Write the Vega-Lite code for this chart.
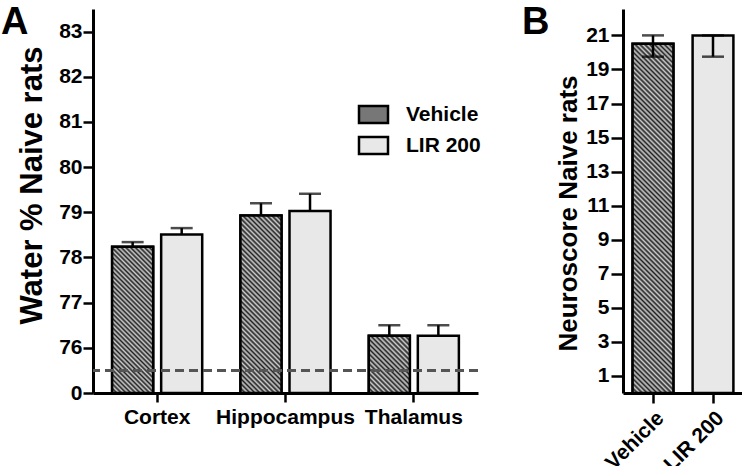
{
"$schema": "https://vega.github.io/schema/vega-lite/v6.json",
"background": "white",
"padding": {"left": 1, "top": 4, "right": 0, "bottom": 0},
"spacing": 42,
"config": {
  "view": {"stroke": null},
  "axis": {"grid": false, "domainColor": "black", "domainWidth": 3, "tickColor": "black", "tickWidth": 2.5, "tickSize": 10, "labelFont": "Liberation Sans", "labelFontWeight": "bold", "labelFontSize": 21, "labelColor": "black", "titleFont": "Liberation Sans", "titleFontWeight": "bold", "titleColor": "black", "labelOverlap": false},
  "title": {"font": "Liberation Sans", "fontWeight": "bold", "color": "black"}
},
"hconcat": [
{
  "width": 385, "height": 384,
  "title": {"text": "A", "anchor": "start", "frame": "group", "fontSize": 38, "dx": -92, "baseline": "alphabetic", "offset": -63},
  "data": {"values": [
    {"region": "Cortex", "group": "Vehicle", "value": 78.24, "upper": 78.34},
    {"region": "Cortex", "group": "LIR 200", "value": 78.51, "upper": 78.65},
    {"region": "Hippocampus", "group": "Vehicle", "value": 78.93, "upper": 79.2},
    {"region": "Hippocampus", "group": "LIR 200", "value": 79.03, "upper": 79.41},
    {"region": "Thalamus", "group": "Vehicle", "value": 76.27, "upper": 76.5},
    {"region": "Thalamus", "group": "LIR 200", "value": 76.27, "upper": 76.5}
  ]},
  "layer": [
    {
      "mark": {"type": "bar", "stroke": "black", "strokeWidth": 2.5},
      "encoding": {
        "x": {"field": "region", "type": "nominal", "sort": ["Cortex", "Hippocampus", "Thalamus"], "scale": {"paddingInner": 0, "paddingOuter": 0}, "title": null, "axis": {"labelAngle": 0, "tickSize": 9, "labelPadding": 4}},
        "xOffset": {"field": "group", "type": "nominal", "sort": ["Vehicle", "LIR 200"], "scale": {"domain": ["Vehicle", "LIR 200"], "paddingInner": 0.163, "paddingOuter": 0.39}},
        "y": {"field": "value", "type": "quantitative", "stack": null, "scale": {"domain": [75, 83.5], "zero": false, "nice": false}, "title": "Water %  Naive rats",
              "axis": {"values": [75, 76, 77, 78, 79, 80, 81, 82, 83], "tickCount": 12, "labelExpr": "datum.value == 75 ? '0' : datum.label", "titleFontSize": 31, "titlePadding": 10, "labelPadding": 1, "tickSize": 10, "titleY": 176}},
        "fill": {
          "field": "group", "type": "nominal",
          "scale": {"domain": ["Vehicle", "LIR 200"], "range": ["#777777", "#e8e8e8"]},
          "legend": {
            "title": null, "orient": "none", "legendX": 270, "legendY": 95, "padding": 0,
            "symbolType": "M-1.706,-1H1.706V1H-1.706Z", "symbolSize": 289, "symbolStrokeColor": "black", "symbolStrokeWidth": 2.5,
            "labelFont": "Liberation Sans", "labelFontSize": 21, "labelFontWeight": "bold", "labelColor": "black", "labelOffset": 22, "rowPadding": 4
          }
        }
      }
    },
    {
      "transform": [{"filter": "datum.group === 'Vehicle' && datum.region === 'Cortex'"}],
      "mark": {"type": "bar", "stroke": "black", "strokeWidth": 2.5, "fill": {"gradient": "linear", "x1": 0, "y1": 1, "x2": 0.3329, "y2": -0.1871, "stops": [
{"offset":0,"color":"#222"},{"offset":0.0125,"color":"#ccc"},{"offset":0.025,"color":"#222"},{"offset":0.0375,"color":"#ccc"},{"offset":0.05,"color":"#222"},{"offset":0.0625,"color":"#ccc"},{"offset":0.075,"color":"#222"},{"offset":0.0875,"color":"#ccc"},
{"offset":0.1,"color":"#222"},{"offset":0.1125,"color":"#ccc"},{"offset":0.125,"color":"#222"},{"offset":0.1375,"color":"#ccc"},{"offset":0.15,"color":"#222"},{"offset":0.1625,"color":"#ccc"},{"offset":0.175,"color":"#222"},{"offset":0.1875,"color":"#ccc"},
{"offset":0.2,"color":"#222"},{"offset":0.2125,"color":"#ccc"},{"offset":0.225,"color":"#222"},{"offset":0.2375,"color":"#ccc"},{"offset":0.25,"color":"#222"},{"offset":0.2625,"color":"#ccc"},{"offset":0.275,"color":"#222"},{"offset":0.2875,"color":"#ccc"},
{"offset":0.3,"color":"#222"},{"offset":0.3125,"color":"#ccc"},{"offset":0.325,"color":"#222"},{"offset":0.3375,"color":"#ccc"},{"offset":0.35,"color":"#222"},{"offset":0.3625,"color":"#ccc"},{"offset":0.375,"color":"#222"},{"offset":0.3875,"color":"#ccc"},
{"offset":0.4,"color":"#222"},{"offset":0.4125,"color":"#ccc"},{"offset":0.425,"color":"#222"},{"offset":0.4375,"color":"#ccc"},{"offset":0.45,"color":"#222"},{"offset":0.4625,"color":"#ccc"},{"offset":0.475,"color":"#222"},{"offset":0.4875,"color":"#ccc"},
{"offset":0.5,"color":"#222"},{"offset":0.5125,"color":"#ccc"},{"offset":0.525,"color":"#222"},{"offset":0.5375,"color":"#ccc"},{"offset":0.55,"color":"#222"},{"offset":0.5625,"color":"#ccc"},{"offset":0.575,"color":"#222"},{"offset":0.5875,"color":"#ccc"},
{"offset":0.6,"color":"#222"},{"offset":0.6125,"color":"#ccc"},{"offset":0.625,"color":"#222"},{"offset":0.6375,"color":"#ccc"},{"offset":0.65,"color":"#222"},{"offset":0.6625,"color":"#ccc"},{"offset":0.675,"color":"#222"},{"offset":0.6875,"color":"#ccc"},
{"offset":0.7,"color":"#222"},{"offset":0.7125,"color":"#ccc"},{"offset":0.725,"color":"#222"},{"offset":0.7375,"color":"#ccc"},{"offset":0.75,"color":"#222"},{"offset":0.7625,"color":"#ccc"},{"offset":0.775,"color":"#222"},{"offset":0.7875,"color":"#ccc"},
{"offset":0.8,"color":"#222"},{"offset":0.8125,"color":"#ccc"},{"offset":0.825,"color":"#222"},{"offset":0.8375,"color":"#ccc"},{"offset":0.85,"color":"#222"},{"offset":0.8625,"color":"#ccc"},{"offset":0.875,"color":"#222"},{"offset":0.8875,"color":"#ccc"},
{"offset":0.9,"color":"#222"},{"offset":0.9125,"color":"#ccc"},{"offset":0.925,"color":"#222"},{"offset":0.9375,"color":"#ccc"},{"offset":0.95,"color":"#222"},{"offset":0.9625,"color":"#ccc"},{"offset":0.975,"color":"#222"},{"offset":0.9875,"color":"#ccc"},
{"offset":1,"color":"#222"}]}},
      "encoding": {
        "x": {"field": "region", "type": "nominal", "sort": ["Cortex", "Hippocampus", "Thalamus"], "title": null},
        "xOffset": {"field": "group", "type": "nominal", "sort": ["Vehicle", "LIR 200"]},
        "y": {"field": "value", "type": "quantitative", "stack": null, "scale": {"domain": [75, 83.5], "zero": false, "nice": false}, "title": "Water %  Naive rats"}
      }
    },
    {
      "transform": [{"filter": "datum.group === 'Vehicle' && datum.region === 'Hippocampus'"}],
      "mark": {"type": "bar", "stroke": "black", "strokeWidth": 2.5, "fill": {"gradient": "linear", "x1": 0, "y1": 1, "x2": 0.2703, "y2": -0.1688, "stops": [
{"offset":0,"color":"#222"},{"offset":0.0111,"color":"#ccc"},{"offset":0.0222,"color":"#222"},{"offset":0.0333,"color":"#ccc"},{"offset":0.0444,"color":"#222"},{"offset":0.0556,"color":"#ccc"},{"offset":0.0667,"color":"#222"},{"offset":0.0778,"color":"#ccc"},{"offset":0.0889,"color":"#222"},
{"offset":0.1,"color":"#ccc"},{"offset":0.1111,"color":"#222"},{"offset":0.1222,"color":"#ccc"},{"offset":0.1333,"color":"#222"},{"offset":0.1444,"color":"#ccc"},{"offset":0.1556,"color":"#222"},{"offset":0.1667,"color":"#ccc"},{"offset":0.1778,"color":"#222"},{"offset":0.1889,"color":"#ccc"},
{"offset":0.2,"color":"#222"},{"offset":0.2111,"color":"#ccc"},{"offset":0.2222,"color":"#222"},{"offset":0.2333,"color":"#ccc"},{"offset":0.2444,"color":"#222"},{"offset":0.2556,"color":"#ccc"},{"offset":0.2667,"color":"#222"},{"offset":0.2778,"color":"#ccc"},{"offset":0.2889,"color":"#222"},
{"offset":0.3,"color":"#ccc"},{"offset":0.3111,"color":"#222"},{"offset":0.3222,"color":"#ccc"},{"offset":0.3333,"color":"#222"},{"offset":0.3444,"color":"#ccc"},{"offset":0.3556,"color":"#222"},{"offset":0.3667,"color":"#ccc"},{"offset":0.3778,"color":"#222"},{"offset":0.3889,"color":"#ccc"},
{"offset":0.4,"color":"#222"},{"offset":0.4111,"color":"#ccc"},{"offset":0.4222,"color":"#222"},{"offset":0.4333,"color":"#ccc"},{"offset":0.4444,"color":"#222"},{"offset":0.4556,"color":"#ccc"},{"offset":0.4667,"color":"#222"},{"offset":0.4778,"color":"#ccc"},{"offset":0.4889,"color":"#222"},
{"offset":0.5,"color":"#ccc"},{"offset":0.5111,"color":"#222"},{"offset":0.5222,"color":"#ccc"},{"offset":0.5333,"color":"#222"},{"offset":0.5444,"color":"#ccc"},{"offset":0.5556,"color":"#222"},{"offset":0.5667,"color":"#ccc"},{"offset":0.5778,"color":"#222"},{"offset":0.5889,"color":"#ccc"},
{"offset":0.6,"color":"#222"},{"offset":0.6111,"color":"#ccc"},{"offset":0.6222,"color":"#222"},{"offset":0.6333,"color":"#ccc"},{"offset":0.6444,"color":"#222"},{"offset":0.6556,"color":"#ccc"},{"offset":0.6667,"color":"#222"},{"offset":0.6778,"color":"#ccc"},{"offset":0.6889,"color":"#222"},
{"offset":0.7,"color":"#ccc"},{"offset":0.7111,"color":"#222"},{"offset":0.7222,"color":"#ccc"},{"offset":0.7333,"color":"#222"},{"offset":0.7444,"color":"#ccc"},{"offset":0.7556,"color":"#222"},{"offset":0.7667,"color":"#ccc"},{"offset":0.7778,"color":"#222"},{"offset":0.7889,"color":"#ccc"},
{"offset":0.8,"color":"#222"},{"offset":0.8111,"color":"#ccc"},{"offset":0.8222,"color":"#222"},{"offset":0.8333,"color":"#ccc"},{"offset":0.8444,"color":"#222"},{"offset":0.8556,"color":"#ccc"},{"offset":0.8667,"color":"#222"},{"offset":0.8778,"color":"#ccc"},{"offset":0.8889,"color":"#222"},
{"offset":0.9,"color":"#ccc"},{"offset":0.9111,"color":"#222"},{"offset":0.9222,"color":"#ccc"},{"offset":0.9333,"color":"#222"},{"offset":0.9444,"color":"#ccc"},{"offset":0.9556,"color":"#222"},{"offset":0.9667,"color":"#ccc"},{"offset":0.9778,"color":"#222"},{"offset":0.9889,"color":"#ccc"},
{"offset":1,"color":"#222"}]}},
      "encoding": {
        "x": {"field": "region", "type": "nominal", "sort": ["Cortex", "Hippocampus", "Thalamus"], "title": null},
        "xOffset": {"field": "group", "type": "nominal", "sort": ["Vehicle", "LIR 200"]},
        "y": {"field": "value", "type": "quantitative", "stack": null, "scale": {"domain": [75, 83.5], "zero": false, "nice": false}, "title": "Water %  Naive rats"}
      }
    },
    {
      "transform": [{"filter": "datum.group === 'Vehicle' && datum.region === 'Thalamus'"}],
      "mark": {"type": "bar", "stroke": "black", "strokeWidth": 2.5, "fill": {"gradient": "linear", "x1": 0, "y1": 1, "x2": 0.8116, "y2": -0.1348, "stops": [
{"offset":0,"color":"#222"},{"offset":0.025,"color":"#ccc"},{"offset":0.05,"color":"#222"},{"offset":0.075,"color":"#ccc"},
{"offset":0.1,"color":"#222"},{"offset":0.125,"color":"#ccc"},{"offset":0.15,"color":"#222"},{"offset":0.175,"color":"#ccc"},
{"offset":0.2,"color":"#222"},{"offset":0.225,"color":"#ccc"},{"offset":0.25,"color":"#222"},{"offset":0.275,"color":"#ccc"},
{"offset":0.3,"color":"#222"},{"offset":0.325,"color":"#ccc"},{"offset":0.35,"color":"#222"},{"offset":0.375,"color":"#ccc"},
{"offset":0.4,"color":"#222"},{"offset":0.425,"color":"#ccc"},{"offset":0.45,"color":"#222"},{"offset":0.475,"color":"#ccc"},
{"offset":0.5,"color":"#222"},{"offset":0.525,"color":"#ccc"},{"offset":0.55,"color":"#222"},{"offset":0.575,"color":"#ccc"},
{"offset":0.6,"color":"#222"},{"offset":0.625,"color":"#ccc"},{"offset":0.65,"color":"#222"},{"offset":0.675,"color":"#ccc"},
{"offset":0.7,"color":"#222"},{"offset":0.725,"color":"#ccc"},{"offset":0.75,"color":"#222"},{"offset":0.775,"color":"#ccc"},
{"offset":0.8,"color":"#222"},{"offset":0.825,"color":"#ccc"},{"offset":0.85,"color":"#222"},{"offset":0.875,"color":"#ccc"},
{"offset":0.9,"color":"#222"},{"offset":0.925,"color":"#ccc"},{"offset":0.95,"color":"#222"},{"offset":0.975,"color":"#ccc"},
{"offset":1,"color":"#222"}]}},
      "encoding": {
        "x": {"field": "region", "type": "nominal", "sort": ["Cortex", "Hippocampus", "Thalamus"], "title": null},
        "xOffset": {"field": "group", "type": "nominal", "sort": ["Vehicle", "LIR 200"]},
        "y": {"field": "value", "type": "quantitative", "stack": null, "scale": {"domain": [75, 83.5], "zero": false, "nice": false}, "title": "Water %  Naive rats"}
      }
    },
    {
      "mark": {"type": "rule", "color": "black", "strokeWidth": 2.5},
      "encoding": {
        "x": {"field": "region", "type": "nominal", "sort": ["Cortex", "Hippocampus", "Thalamus"], "title": null},
        "xOffset": {"field": "group", "type": "nominal", "sort": ["Vehicle", "LIR 200"]},
        "y": {"field": "value", "type": "quantitative", "scale": {"domain": [75, 83.5], "zero": false, "nice": false}, "title": "Water %  Naive rats"},
        "y2": {"field": "upper"}
      }
    },
    {
      "mark": {"type": "tick", "color": "black", "thickness": 2.5, "size": 22, "orient": "horizontal"},
      "encoding": {
        "x": {"field": "region", "type": "nominal", "sort": ["Cortex", "Hippocampus", "Thalamus"], "title": null},
        "xOffset": {"field": "group", "type": "nominal", "sort": ["Vehicle", "LIR 200"]},
        "y": {"field": "upper", "type": "quantitative", "scale": {"domain": [75, 83.5], "zero": false, "nice": false}, "title": "Water %  Naive rats"}
      }
    },
    {
      "data": {"values": [{"ref": 75.5}]},
      "mark": {"type": "rule", "color": "#555555", "strokeWidth": 3, "strokeDash": [9, 5]},
      "encoding": {"y": {"field": "ref", "type": "quantitative", "scale": {"domain": [75, 83.5], "zero": false, "nice": false}, "title": "Water %  Naive rats"}}
    }
  ]
},
{
  "width": 120, "height": 384,
  "title": {"text": "B", "anchor": "start", "frame": "group", "fontSize": 38, "dx": -101, "baseline": "alphabetic", "offset": -63},
  "data": {"values": [
    {"group": "Vehicle", "value": 20.51, "lower": 19.75, "upper": 21},
    {"group": "LIR 200", "value": 21, "lower": 19.75, "upper": 21}
  ]},
  "encoding": {
    "x": {"field": "group", "type": "nominal", "sort": ["Vehicle", "LIR 200"], "scale": {"paddingInner": 0.32, "paddingOuter": 0.16}, "title": null, "axis": {"labelAngle": -45, "tickSize": 10, "labelPadding": 4}}
  },
  "layer": [
    {
      "mark": {"type": "bar", "stroke": "black", "strokeWidth": 2.5, "fill": "#e8e8e8"},
      "encoding": {
        "y": {"field": "value", "type": "quantitative", "stack": null, "scale": {"domain": [0, 22.55], "nice": false}, "title": "Neuroscore Naive rats",
              "axis": {"values": [1, 3, 5, 7, 9, 11, 13, 15, 17, 19, 21], "tickCount": 12, "titleFontSize": 26, "titlePadding": 4, "labelPadding": 2, "tickSize": 12, "titleY": 204}}
      }
    },
    {
      "transform": [{"filter": "datum.group === 'Vehicle'"}],
      "mark": {"type": "bar", "stroke": "black", "strokeWidth": 2.5, "fill": {"gradient": "linear", "x1": 0, "y1": 1, "x2": 0.1287, "y2": -0.1018, "stops": [
{"offset":0,"color":"#222"},{"offset":0.00625,"color":"#ccc"},{"offset":0.0125,"color":"#222"},{"offset":0.01875,"color":"#ccc"},{"offset":0.025,"color":"#222"},{"offset":0.03125,"color":"#ccc"},{"offset":0.0375,"color":"#222"},{"offset":0.04375,"color":"#ccc"},{"offset":0.05,"color":"#222"},{"offset":0.05625,"color":"#ccc"},{"offset":0.0625,"color":"#222"},{"offset":0.06875,"color":"#ccc"},{"offset":0.075,"color":"#222"},{"offset":0.08125,"color":"#ccc"},{"offset":0.0875,"color":"#222"},{"offset":0.09375,"color":"#ccc"},
{"offset":0.1,"color":"#222"},{"offset":0.10625,"color":"#ccc"},{"offset":0.1125,"color":"#222"},{"offset":0.11875,"color":"#ccc"},{"offset":0.125,"color":"#222"},{"offset":0.13125,"color":"#ccc"},{"offset":0.1375,"color":"#222"},{"offset":0.14375,"color":"#ccc"},{"offset":0.15,"color":"#222"},{"offset":0.15625,"color":"#ccc"},{"offset":0.1625,"color":"#222"},{"offset":0.16875,"color":"#ccc"},{"offset":0.175,"color":"#222"},{"offset":0.18125,"color":"#ccc"},{"offset":0.1875,"color":"#222"},{"offset":0.19375,"color":"#ccc"},
{"offset":0.2,"color":"#222"},{"offset":0.20625,"color":"#ccc"},{"offset":0.2125,"color":"#222"},{"offset":0.21875,"color":"#ccc"},{"offset":0.225,"color":"#222"},{"offset":0.23125,"color":"#ccc"},{"offset":0.2375,"color":"#222"},{"offset":0.24375,"color":"#ccc"},{"offset":0.25,"color":"#222"},{"offset":0.25625,"color":"#ccc"},{"offset":0.2625,"color":"#222"},{"offset":0.26875,"color":"#ccc"},{"offset":0.275,"color":"#222"},{"offset":0.28125,"color":"#ccc"},{"offset":0.2875,"color":"#222"},{"offset":0.29375,"color":"#ccc"},
{"offset":0.3,"color":"#222"},{"offset":0.30625,"color":"#ccc"},{"offset":0.3125,"color":"#222"},{"offset":0.31875,"color":"#ccc"},{"offset":0.325,"color":"#222"},{"offset":0.33125,"color":"#ccc"},{"offset":0.3375,"color":"#222"},{"offset":0.34375,"color":"#ccc"},{"offset":0.35,"color":"#222"},{"offset":0.35625,"color":"#ccc"},{"offset":0.3625,"color":"#222"},{"offset":0.36875,"color":"#ccc"},{"offset":0.375,"color":"#222"},{"offset":0.38125,"color":"#ccc"},{"offset":0.3875,"color":"#222"},{"offset":0.39375,"color":"#ccc"},
{"offset":0.4,"color":"#222"},{"offset":0.40625,"color":"#ccc"},{"offset":0.4125,"color":"#222"},{"offset":0.41875,"color":"#ccc"},{"offset":0.425,"color":"#222"},{"offset":0.43125,"color":"#ccc"},{"offset":0.4375,"color":"#222"},{"offset":0.44375,"color":"#ccc"},{"offset":0.45,"color":"#222"},{"offset":0.45625,"color":"#ccc"},{"offset":0.4625,"color":"#222"},{"offset":0.46875,"color":"#ccc"},{"offset":0.475,"color":"#222"},{"offset":0.48125,"color":"#ccc"},{"offset":0.4875,"color":"#222"},{"offset":0.49375,"color":"#ccc"},
{"offset":0.5,"color":"#222"},{"offset":0.50625,"color":"#ccc"},{"offset":0.5125,"color":"#222"},{"offset":0.51875,"color":"#ccc"},{"offset":0.525,"color":"#222"},{"offset":0.53125,"color":"#ccc"},{"offset":0.5375,"color":"#222"},{"offset":0.54375,"color":"#ccc"},{"offset":0.55,"color":"#222"},{"offset":0.55625,"color":"#ccc"},{"offset":0.5625,"color":"#222"},{"offset":0.56875,"color":"#ccc"},{"offset":0.575,"color":"#222"},{"offset":0.58125,"color":"#ccc"},{"offset":0.5875,"color":"#222"},{"offset":0.59375,"color":"#ccc"},
{"offset":0.6,"color":"#222"},{"offset":0.60625,"color":"#ccc"},{"offset":0.6125,"color":"#222"},{"offset":0.61875,"color":"#ccc"},{"offset":0.625,"color":"#222"},{"offset":0.63125,"color":"#ccc"},{"offset":0.6375,"color":"#222"},{"offset":0.64375,"color":"#ccc"},{"offset":0.65,"color":"#222"},{"offset":0.65625,"color":"#ccc"},{"offset":0.6625,"color":"#222"},{"offset":0.66875,"color":"#ccc"},{"offset":0.675,"color":"#222"},{"offset":0.68125,"color":"#ccc"},{"offset":0.6875,"color":"#222"},{"offset":0.69375,"color":"#ccc"},
{"offset":0.7,"color":"#222"},{"offset":0.70625,"color":"#ccc"},{"offset":0.7125,"color":"#222"},{"offset":0.71875,"color":"#ccc"},{"offset":0.725,"color":"#222"},{"offset":0.73125,"color":"#ccc"},{"offset":0.7375,"color":"#222"},{"offset":0.74375,"color":"#ccc"},{"offset":0.75,"color":"#222"},{"offset":0.75625,"color":"#ccc"},{"offset":0.7625,"color":"#222"},{"offset":0.76875,"color":"#ccc"},{"offset":0.775,"color":"#222"},{"offset":0.78125,"color":"#ccc"},{"offset":0.7875,"color":"#222"},{"offset":0.79375,"color":"#ccc"},
{"offset":0.8,"color":"#222"},{"offset":0.80625,"color":"#ccc"},{"offset":0.8125,"color":"#222"},{"offset":0.81875,"color":"#ccc"},{"offset":0.825,"color":"#222"},{"offset":0.83125,"color":"#ccc"},{"offset":0.8375,"color":"#222"},{"offset":0.84375,"color":"#ccc"},{"offset":0.85,"color":"#222"},{"offset":0.85625,"color":"#ccc"},{"offset":0.8625,"color":"#222"},{"offset":0.86875,"color":"#ccc"},{"offset":0.875,"color":"#222"},{"offset":0.88125,"color":"#ccc"},{"offset":0.8875,"color":"#222"},{"offset":0.89375,"color":"#ccc"},
{"offset":0.9,"color":"#222"},{"offset":0.90625,"color":"#ccc"},{"offset":0.9125,"color":"#222"},{"offset":0.91875,"color":"#ccc"},{"offset":0.925,"color":"#222"},{"offset":0.93125,"color":"#ccc"},{"offset":0.9375,"color":"#222"},{"offset":0.94375,"color":"#ccc"},{"offset":0.95,"color":"#222"},{"offset":0.95625,"color":"#ccc"},{"offset":0.9625,"color":"#222"},{"offset":0.96875,"color":"#ccc"},{"offset":0.975,"color":"#222"},{"offset":0.98125,"color":"#ccc"},{"offset":0.9875,"color":"#222"},{"offset":0.99375,"color":"#ccc"},
{"offset":1,"color":"#222"}]}},
      "encoding": {"y": {"field": "value", "type": "quantitative", "stack": null, "scale": {"domain": [0, 22.55], "nice": false}, "title": "Neuroscore Naive rats"}}
    },
    {
      "mark": {"type": "rule", "color": "black", "strokeWidth": 2.5},
      "encoding": {
        "y": {"field": "lower", "type": "quantitative", "scale": {"domain": [0, 22.55], "nice": false}, "title": "Neuroscore Naive rats"},
        "y2": {"field": "upper"}
      }
    },
    {
      "mark": {"type": "tick", "color": "black", "thickness": 2.5, "size": 22, "orient": "horizontal"},
      "encoding": {"y": {"field": "lower", "type": "quantitative", "scale": {"domain": [0, 22.55], "nice": false}, "title": "Neuroscore Naive rats"}}
    },
    {
      "mark": {"type": "tick", "color": "black", "thickness": 2.5, "size": 22, "orient": "horizontal"},
      "encoding": {"y": {"field": "upper", "type": "quantitative", "scale": {"domain": [0, 22.55], "nice": false}, "title": "Neuroscore Naive rats"}}
    }
  ]
}
]
}
